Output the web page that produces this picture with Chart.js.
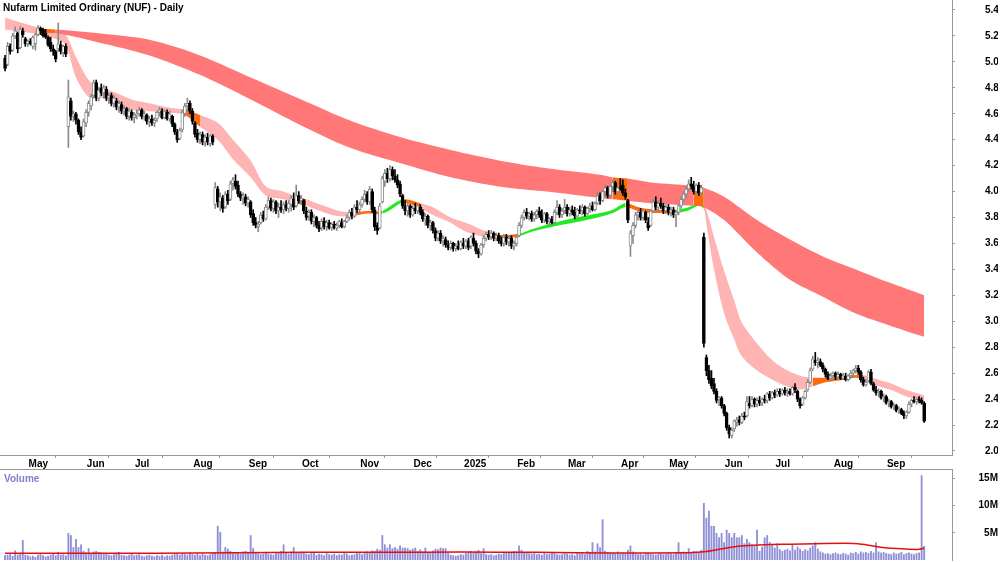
<!DOCTYPE html>
<html><head><meta charset="utf-8">
<script src="https://cdn.jsdelivr.net/npm/chart.js@4.4.1/dist/chart.umd.min.js"></script>
<style>
html,body{margin:0;padding:0;background:#fff;}
#wrap{position:relative;width:1000px;height:562px;overflow:hidden;font-family:"Liberation Sans",Arial,sans-serif;}
#pc{position:absolute;left:0;top:0;}
#vc{position:absolute;left:0;top:469px;}
#title{position:absolute;left:3px;top:1px;font-weight:bold;font-size:10px;line-height:13px;color:#000;z-index:2;white-space:nowrap;}
#vlab{position:absolute;left:4px;top:472px;color:#8080c8;font-weight:bold;font-size:10px;line-height:13px;z-index:2;}
</style></head>
<body>
<div id="wrap">
<canvas id="pc" width="1000" height="470"></canvas>
<canvas id="vc" width="1000" height="93"></canvas>
<div id="title">Nufarm Limited Ordinary (NUF) - Daily</div>
<div id="vlab">Volume</div>
</div>
<script>
// ---------- data ----------
const monthStart = [9,32,51,74,96,117,140,161,181,202,222,243,262,284,304,327,348];
const monthLabel = ['May','Jun','Jul','Aug','Sep','Oct','Nov','Dec','2025','Feb','Mar','Apr','May','Jun','Jul','Aug','Sep'];
const priceTicks = [2.0,2.2,2.4,2.6,2.8,3.0,3.2,3.4,3.6,3.8,4.0,4.2,4.4,4.6,4.8,5.0,5.2,5.4];
const volTicks = [5,10,15];

const open = [
5.03,4.98,5.12,5.09,5.20,5.22,5.11,5.24,5.18,5.14,
5.16,5.12,5.14,5.21,5.26,5.25,5.22,5.19,5.15,5.10,
5.08,5.10,5.13,5.07,5.12,4.50,4.70,4.58,4.60,4.55,
4.46,4.43,4.53,4.61,4.66,4.74,4.84,4.72,4.80,4.76,
4.79,4.72,4.74,4.68,4.70,4.65,4.67,4.62,4.64,4.58,
4.61,4.57,4.59,4.60,4.63,4.58,4.59,4.54,4.56,4.53,
4.56,4.61,4.62,4.57,4.61,4.56,4.58,4.52,4.46,4.41,
4.48,4.60,4.66,4.68,4.62,4.53,4.45,4.40,4.44,4.38,
4.42,4.37,4.43,3.90,4.02,3.92,3.95,3.88,3.98,3.94,
4.06,4.08,4.05,3.98,3.95,3.96,3.91,3.92,3.83,3.76,
3.73,3.76,3.82,3.79,3.88,3.93,3.87,3.92,3.85,3.88,
3.86,3.90,3.87,3.90,3.94,3.89,3.97,3.93,3.93,3.85,
3.81,3.84,3.77,3.80,3.74,3.72,3.77,3.73,3.76,3.72,
3.75,3.72,3.74,3.76,3.73,3.77,3.80,3.84,3.81,3.88,
3.86,3.90,3.94,3.98,3.92,4.00,3.86,3.74,3.72,3.92,
4.08,4.14,4.10,4.17,4.12,4.09,4.06,3.97,3.89,3.85,
3.89,3.82,3.87,3.85,3.88,3.84,3.79,3.81,3.74,3.76,
3.70,3.64,3.68,3.62,3.63,3.59,3.57,3.60,3.56,3.58,
3.56,3.60,3.58,3.62,3.58,3.64,3.60,3.54,3.52,3.59,
3.64,3.67,3.65,3.68,3.64,3.66,3.62,3.60,3.65,3.61,
3.64,3.58,3.60,3.66,3.74,3.80,3.84,3.81,3.83,3.79,
3.82,3.85,3.82,3.78,3.83,3.77,3.79,3.76,3.84,3.88,
3.82,3.85,3.88,3.83,3.86,3.84,3.81,3.86,3.85,3.88,
3.83,3.87,3.89,3.86,3.91,3.97,3.93,4.00,4.03,3.97,
4.04,4.07,4.00,4.03,4.05,3.99,3.93,3.58,3.66,3.74,
3.82,3.84,3.80,3.84,3.76,3.74,3.85,3.92,3.88,3.91,
3.89,3.85,3.88,3.84,3.86,3.82,3.84,3.89,3.94,3.98,
4.02,4.06,4.04,4.00,4.05,3.99,3.65,2.72,2.62,2.56,
2.52,2.46,2.40,2.41,2.35,2.29,2.18,2.12,2.17,2.22,
2.24,2.22,2.27,2.27,2.37,2.35,2.40,2.36,2.39,2.37,
2.40,2.39,2.44,2.41,2.45,2.43,2.46,2.44,2.47,2.45,
2.46,2.44,2.49,2.46,2.40,2.36,2.41,2.47,2.53,2.63,
2.70,2.68,2.69,2.66,2.63,2.59,2.56,2.58,2.60,2.57,
2.59,2.56,2.58,2.55,2.58,2.60,2.62,2.64,2.61,2.55,
2.51,2.54,2.61,2.52,2.47,2.45,2.46,2.41,2.42,2.37,
2.38,2.34,2.35,2.31,2.32,2.29,2.27,2.30,2.36,2.39,
2.38,2.40,2.39,2.37];
const high = [
5.05,5.15,5.14,5.22,5.27,5.23,5.27,5.26,5.19,5.17,
5.18,5.20,5.22,5.28,5.27,5.26,5.25,5.20,5.19,5.13,
5.09,5.30,5.16,5.13,5.14,4.86,4.72,4.62,4.61,4.56,
4.50,4.56,4.63,4.70,4.75,4.86,4.86,4.80,4.83,4.82,
4.81,4.76,4.76,4.74,4.72,4.70,4.69,4.66,4.65,4.64,
4.63,4.61,4.63,4.65,4.64,4.62,4.60,4.58,4.59,4.57,
4.62,4.65,4.64,4.63,4.63,4.62,4.59,4.53,4.48,4.49,
4.63,4.68,4.72,4.70,4.64,4.54,4.48,4.46,4.46,4.44,
4.45,4.44,4.44,4.07,4.04,3.99,3.97,4.00,4.01,4.08,
4.11,4.13,4.08,4.00,3.99,3.98,3.96,3.93,3.86,3.80,
3.77,3.84,3.85,3.90,3.96,3.95,3.94,3.93,3.91,3.93,
3.92,3.93,3.93,3.97,3.99,4.05,4.00,3.97,3.94,3.88,
3.86,3.86,3.82,3.81,3.77,3.79,3.80,3.78,3.78,3.76,
3.77,3.76,3.78,3.79,3.78,3.82,3.86,3.87,3.90,3.93,
3.92,3.96,4.01,4.00,4.04,4.02,3.88,3.76,3.91,4.12,
4.17,4.18,4.20,4.19,4.17,4.13,4.08,3.98,3.93,3.91,
3.90,3.89,3.91,3.90,3.90,3.86,3.83,3.82,3.78,3.77,
3.72,3.70,3.70,3.66,3.65,3.62,3.62,3.61,3.60,3.62,
3.62,3.64,3.63,3.64,3.66,3.68,3.62,3.56,3.60,3.66,
3.69,3.70,3.70,3.69,3.68,3.68,3.65,3.67,3.67,3.66,
3.66,3.62,3.66,3.76,3.82,3.86,3.87,3.84,3.85,3.84,
3.86,3.88,3.86,3.84,3.84,3.80,3.81,3.86,3.93,3.90,
3.87,3.94,3.90,3.88,3.89,3.88,3.87,3.89,3.90,3.89,
3.88,3.91,3.92,3.92,4.00,3.99,4.01,4.05,4.04,4.05,
4.09,4.08,4.05,4.10,4.09,4.02,3.94,3.70,3.76,3.84,
3.86,3.87,3.86,3.85,3.80,3.86,3.94,3.96,3.93,3.95,
3.91,3.90,3.90,3.88,3.88,3.85,3.90,3.96,4.00,4.04,
4.09,4.11,4.08,4.06,4.07,4.05,3.68,2.74,2.66,2.62,
2.56,2.48,2.42,2.42,2.36,2.30,2.20,2.18,2.24,2.26,
2.27,2.29,2.30,2.42,2.42,2.42,2.41,2.41,2.42,2.41,
2.43,2.45,2.46,2.46,2.47,2.48,2.48,2.48,2.49,2.48,
2.48,2.50,2.52,2.47,2.41,2.42,2.47,2.55,2.64,2.73,
2.76,2.72,2.71,2.68,2.64,2.61,2.60,2.61,2.61,2.61,
2.60,2.60,2.60,2.59,2.62,2.63,2.66,2.66,2.62,2.57,
2.55,2.62,2.63,2.53,2.50,2.48,2.47,2.44,2.43,2.40,
2.39,2.37,2.36,2.34,2.33,2.31,2.31,2.38,2.40,2.42,
2.41,2.42,2.41,2.38];
const low = [
4.93,4.97,5.06,5.08,5.18,5.07,5.10,5.19,5.12,5.12,
5.13,5.10,5.09,5.20,5.21,5.19,5.18,5.12,5.08,5.05,
5.00,5.08,5.06,5.04,5.04,4.34,4.55,4.54,4.52,4.44,
4.40,4.42,4.50,4.58,4.63,4.72,4.70,4.70,4.74,4.72,
4.70,4.68,4.66,4.65,4.63,4.61,4.60,4.59,4.56,4.55,
4.55,4.53,4.56,4.58,4.56,4.55,4.52,4.50,4.51,4.50,
4.54,4.58,4.56,4.56,4.55,4.54,4.50,4.44,4.38,4.40,
4.46,4.58,4.62,4.60,4.52,4.42,4.38,4.37,4.36,4.35,
4.36,4.35,4.36,3.87,3.88,3.85,3.84,3.87,3.90,3.93,
4.01,4.02,3.96,3.93,3.90,3.89,3.88,3.80,3.74,3.72,
3.69,3.75,3.77,3.78,3.86,3.85,3.84,3.83,3.80,3.84,
3.83,3.85,3.84,3.85,3.86,3.88,3.91,3.90,3.83,3.78,
3.78,3.75,3.73,3.72,3.69,3.70,3.71,3.70,3.71,3.70,
3.71,3.70,3.72,3.72,3.72,3.76,3.78,3.79,3.80,3.84,
3.83,3.88,3.92,3.90,3.90,3.84,3.70,3.67,3.71,3.91,
4.04,4.07,4.08,4.09,4.07,4.03,3.96,3.87,3.82,3.81,
3.80,3.81,3.83,3.83,3.82,3.77,3.74,3.72,3.70,3.68,
3.62,3.62,3.60,3.58,3.57,3.55,3.55,3.54,3.54,3.55,
3.55,3.56,3.56,3.55,3.56,3.58,3.52,3.49,3.51,3.57,
3.62,3.63,3.63,3.62,3.62,3.60,3.58,3.58,3.59,3.58,
3.56,3.55,3.58,3.65,3.72,3.78,3.79,3.78,3.77,3.77,
3.79,3.80,3.76,3.76,3.75,3.74,3.75,3.75,3.82,3.80,
3.80,3.83,3.81,3.81,3.82,3.79,3.80,3.83,3.82,3.81,
3.82,3.84,3.85,3.85,3.90,3.90,3.92,3.96,3.95,3.95,
4.00,3.98,3.97,4.01,3.97,3.94,3.76,3.50,3.60,3.72,
3.78,3.78,3.78,3.76,3.70,3.73,3.84,3.86,3.85,3.87,
3.83,3.83,3.82,3.81,3.80,3.73,3.82,3.87,3.92,3.95,
4.00,4.02,3.98,3.98,3.97,3.97,2.80,2.58,2.52,2.48,
2.44,2.37,2.35,2.33,2.27,2.16,2.10,2.10,2.15,2.19,
2.20,2.21,2.24,2.26,2.33,2.34,2.34,2.34,2.35,2.35,
2.37,2.37,2.39,2.40,2.41,2.42,2.42,2.43,2.43,2.42,
2.43,2.43,2.45,2.38,2.33,2.35,2.40,2.46,2.52,2.62,
2.66,2.64,2.65,2.61,2.57,2.55,2.54,2.55,2.55,2.56,
2.55,2.55,2.54,2.54,2.56,2.57,2.60,2.59,2.53,2.50,
2.50,2.53,2.51,2.46,2.43,2.42,2.40,2.38,2.36,2.34,
2.33,2.32,2.30,2.29,2.28,2.25,2.25,2.29,2.34,2.37,
2.36,2.37,2.36,2.22];
const close = [
4.95,5.12,5.08,5.20,5.24,5.10,5.25,5.21,5.14,5.16,
5.14,5.19,5.21,5.26,5.24,5.20,5.19,5.13,5.10,5.08,
5.02,5.14,5.08,5.12,5.06,4.73,4.58,4.60,4.55,4.46,
4.42,4.54,4.61,4.68,4.73,4.84,4.72,4.78,4.76,4.80,
4.72,4.74,4.68,4.72,4.65,4.68,4.62,4.64,4.58,4.62,
4.57,4.59,4.60,4.63,4.58,4.60,4.54,4.56,4.53,4.55,
4.61,4.63,4.57,4.62,4.56,4.60,4.52,4.46,4.40,4.47,
4.61,4.66,4.68,4.62,4.54,4.44,4.40,4.44,4.38,4.42,
4.38,4.43,4.38,4.03,3.92,3.96,3.87,3.98,3.93,4.06,
4.09,4.04,3.98,3.95,3.97,3.91,3.94,3.82,3.76,3.74,
3.75,3.82,3.79,3.88,3.93,3.87,3.92,3.85,3.88,3.86,
3.90,3.87,3.91,3.95,3.88,3.97,3.93,3.95,3.85,3.80,
3.84,3.77,3.80,3.74,3.71,3.77,3.73,3.76,3.72,3.75,
3.72,3.74,3.77,3.73,3.77,3.80,3.84,3.81,3.88,3.86,
3.90,3.94,3.98,3.92,4.02,3.86,3.73,3.70,3.89,4.10,
4.14,4.10,4.17,4.12,4.09,4.05,3.98,3.89,3.85,3.89,
3.82,3.87,3.85,3.89,3.84,3.79,3.81,3.74,3.76,3.70,
3.64,3.68,3.62,3.64,3.59,3.57,3.60,3.56,3.58,3.56,
3.61,3.58,3.62,3.57,3.65,3.60,3.54,3.52,3.59,3.64,
3.67,3.65,3.68,3.64,3.66,3.62,3.60,3.65,3.61,3.64,
3.58,3.60,3.65,3.74,3.80,3.84,3.81,3.83,3.79,3.82,
3.85,3.82,3.78,3.83,3.77,3.79,3.76,3.84,3.88,3.82,
3.85,3.88,3.83,3.86,3.84,3.81,3.86,3.85,3.88,3.83,
3.87,3.89,3.86,3.91,3.97,3.93,4.00,4.03,3.97,4.04,
4.07,4.00,4.03,4.02,3.99,3.96,3.78,3.68,3.74,3.82,
3.84,3.80,3.85,3.78,3.72,3.85,3.92,3.88,3.91,3.89,
3.85,3.88,3.84,3.86,3.82,3.84,3.89,3.94,3.98,4.02,
4.06,4.04,4.00,4.05,3.99,4.03,2.83,2.62,2.55,2.50,
2.46,2.39,2.41,2.35,2.29,2.18,2.13,2.16,2.23,2.24,
2.22,2.27,2.26,2.38,2.35,2.40,2.36,2.39,2.37,2.40,
2.39,2.44,2.41,2.45,2.43,2.46,2.44,2.47,2.45,2.46,
2.44,2.49,2.47,2.40,2.35,2.41,2.46,2.53,2.62,2.71,
2.68,2.70,2.66,2.63,2.59,2.56,2.58,2.60,2.57,2.59,
2.56,2.58,2.55,2.58,2.60,2.62,2.64,2.61,2.55,2.51,
2.53,2.61,2.52,2.47,2.45,2.46,2.41,2.42,2.37,2.38,
2.34,2.35,2.31,2.32,2.29,2.27,2.30,2.36,2.39,2.38,
2.40,2.39,2.37,2.23];
// volume in millions
const volume = [
0.8,0.9,1.0,0.7,1.7,0.9,1.1,3.6,0.9,0.8,
0.6,0.7,0.5,0.9,1.0,0.8,0.6,0.7,0.9,1.2,
0.8,1.4,0.9,1.0,0.8,4.9,4.5,2.3,3.8,2.3,
2.8,1.6,1.3,2.1,1.2,1.5,1.6,1.4,1.3,1.0,
1.1,0.9,0.8,1.0,1.3,1.4,0.9,0.8,0.7,0.9,
1.2,0.8,0.9,1.0,0.7,0.6,0.8,0.9,0.7,0.6,
0.8,0.7,0.9,0.6,0.8,0.7,0.9,1.0,1.2,0.9,
1.1,1.0,0.9,1.3,1.0,0.9,1.2,0.8,1.1,0.9,
0.8,1.0,1.3,1.4,6.2,5.1,1.5,2.3,2.0,1.6,
1.2,1.4,1.3,1.1,1.5,1.6,1.3,4.5,2.1,1.4,
1.2,1.0,1.1,1.3,1.1,1.0,0.9,1.2,1.4,1.6,
2.8,1.3,1.1,1.5,2.3,1.4,1.2,1.5,1.3,1.1,
1.0,1.2,1.3,0.9,1.1,1.0,0.8,1.2,1.0,0.9,
1.1,0.8,1.0,0.9,1.2,1.1,0.8,0.9,1.0,1.3,
1.2,1.0,1.4,1.5,1.3,1.7,1.6,2.0,1.8,4.5,
2.8,2.2,2.8,2.1,2.3,2.0,2.6,2.2,2.2,2.1,
1.8,2.0,2.2,1.6,1.9,1.5,2.2,1.4,1.3,1.7,
2.0,1.9,2.2,2.1,2.1,1.2,0.9,0.8,0.7,0.8,
1.0,0.9,1.2,1.4,1.6,1.3,1.5,1.8,1.2,2.1,
1.0,0.9,1.0,0.8,0.9,1.1,1.0,1.2,1.3,1.4,
1.3,1.6,1.5,2.6,1.8,1.3,1.4,1.2,1.1,1.2,
1.0,1.1,0.9,1.2,1.0,1.1,1.3,1.2,1.0,0.9,
1.0,1.2,1.1,0.9,1.0,0.8,1.2,1.1,1.3,1.0,
1.6,1.4,3.2,1.5,3.0,2.3,7.4,1.6,1.4,1.2,
1.3,1.2,1.5,1.1,1.3,1.2,1.8,2.6,1.5,1.2,
1.0,1.1,0.9,1.2,1.3,1.1,1.0,0.9,1.1,1.2,
1.0,1.1,1.3,1.2,1.0,1.4,3.2,1.3,1.5,1.2,
2.1,1.4,1.6,1.5,1.3,1.8,10.4,7.7,9.0,6.2,
6.2,4.9,4.1,4.9,3.2,5.5,4.9,4.1,4.9,4.1,
4.1,4.5,3.0,3.8,3.2,2.8,2.5,5.5,1.6,2.4,
4.1,4.5,3.2,2.9,2.2,3.0,1.9,1.6,1.8,2.0,
1.7,2.8,1.8,2.4,2.0,1.6,1.9,1.7,2.2,2.6,
3.2,2.0,1.5,1.3,1.1,1.2,1.0,1.2,1.3,1.1,
1.0,1.2,1.1,0.9,1.3,1.2,1.4,1.1,1.5,1.3,
1.4,1.2,1.6,1.3,3.2,1.5,1.3,1.4,1.2,1.1,
1.0,1.3,1.1,1.2,1.4,1.0,1.2,1.3,1.1,1.0,
1.2,1.3,15.5,2.5];

// short-term band
const shortIdx = [0,14,21,24,28,33,37,44,50,57,64,71,77,84,90,97,103,110,115,119,123,129,132,137,143,149,153,157,160,164,169,176,182,189,192,196,203,208,214,220,227,234,240,245,251,258,265,270,274,276,277,280,284,288,291,297,303,310,315,319,323,330,336,339,345,350,356,363];
const shortTop = [5.34,5.26,5.24,5.21,5.04,4.86,4.81,4.76,4.71,4.68,4.65,4.63,4.59,4.53,4.40,4.24,4.04,4.00,3.96,3.94,3.91,3.87,3.85,3.84,3.85,3.85,3.90,3.94,3.935,3.91,3.88,3.80,3.76,3.70,3.68,3.665,3.675,3.71,3.745,3.775,3.805,3.83,3.86,3.91,3.875,3.86,3.86,3.88,3.91,3.885,3.86,3.65,3.39,3.16,2.99,2.83,2.70,2.61,2.575,2.565,2.565,2.57,2.585,2.585,2.55,2.52,2.47,2.43];
const shortBot = [5.25,5.21,5.17,5.13,4.88,4.73,4.73,4.68,4.63,4.62,4.61,4.59,4.50,4.40,4.25,4.11,3.97,3.94,3.91,3.89,3.86,3.82,3.81,3.81,3.83,3.83,3.87,3.915,3.905,3.87,3.82,3.76,3.69,3.65,3.64,3.63,3.655,3.69,3.72,3.745,3.77,3.80,3.835,3.88,3.845,3.835,3.835,3.855,3.89,3.865,3.75,3.40,3.06,2.86,2.73,2.62,2.55,2.49,2.475,2.50,2.525,2.545,2.565,2.55,2.50,2.47,2.42,2.39];
const shortOrange = [[71,77],[115,119],[137,149],[157,164],[192,203],[245,265],[319,339]];
const shortGreen = [[149,157],[203,245],[265,276]];

// long-term band
const longIdx = [12,20,37,57,77,97,117,136,156,176,195,214,235,240,246,255,272,276,284,297,310,323,336,349,363];
const longTop = [5.255,5.25,5.22,5.17,5.05,4.88,4.71,4.55,4.42,4.32,4.24,4.18,4.13,4.11,4.10,4.07,4.045,4.03,3.96,3.78,3.63,3.50,3.40,3.30,3.20];
const longBot = [5.215,5.22,5.15,5.05,4.90,4.71,4.51,4.34,4.22,4.11,4.04,4.00,3.95,3.94,3.93,3.91,3.89,3.88,3.78,3.53,3.32,3.19,3.06,2.97,2.88];
const longOrange = [[12,20],[240,246],[272,276]];

// volume moving average
const vmaIdx = [0,30,60,90,120,150,180,210,240,270,276,285,292,300,310,320,335,340,345,352,361,363];
const vmaVal = [1.25,1.25,1.25,1.35,1.4,1.4,1.45,1.4,1.3,1.35,1.5,2.2,2.6,2.8,2.9,3.0,3.05,2.8,2.4,2.1,1.95,2.2];

// ---------- styling ----------
const PINK = '#ffb4b4', RED = '#ff7777', ORANGE = '#ff6a0c', GREEN = '#22ea22';
const UPC = '#8a8a8a', DNC = '#000000';
Chart.defaults.font.family = '"Liberation Sans", Arial, sans-serif';
Chart.defaults.color = '#000';

function inR(m, rs){ return rs.some(r => m >= r[0] && m <= r[1]); }
function shortColor(c){
  const m = (shortIdx[c.p0DataIndex] + shortIdx[c.p1DataIndex]) / 2;
  if (inR(m, shortGreen)) return GREEN;
  if (inR(m, shortOrange)) return ORANGE;
  return PINK;
}
function longColor(c){
  const m = (longIdx[c.p0DataIndex] + longIdx[c.p1DataIndex]) / 2;
  return inR(m, longOrange) ? ORANGE : RED;
}

const idx = close.map((_, i) => i);
const isUp = idx.map(i => close[i] >= open[i]);
const XMIN = -2, XMAX = 374;

const bandLine = (xs, ys, extra) => Object.assign({
  type: 'line',
  data: xs.map((x, k) => ({x: x, y: ys[k]})),
  borderColor: 'rgba(0,0,0,0)', borderWidth: 0, pointRadius: 0, tension: 0.3
}, extra);

new Chart(document.getElementById('pc'), {
  type: 'bar',
  data: {
    datasets: [
      bandLine(shortIdx, shortBot, {fill: false, order: 6}),
      bandLine(shortIdx, shortTop, {fill: '-1', backgroundColor: PINK, segment: {backgroundColor: shortColor}, order: 6}),
      bandLine(longIdx, longBot, {fill: false, order: 5}),
      bandLine(longIdx, longTop, {fill: '-1', backgroundColor: RED, segment: {backgroundColor: longColor}, order: 5}),
      {
        type: 'bar', order: 2, grouped: false, barThickness: 1,
        data: idx.map(i => ({x: i, y: [low[i], high[i]]})),
        backgroundColor: idx.map(i => isUp[i] ? UPC : DNC)
      },
      {
        type: 'bar', order: 1, grouped: false, barThickness: 3, minBarLength: 1,
        data: idx.map(i => ({x: i, y: [Math.min(open[i], close[i]), Math.max(open[i], close[i])]})),
        backgroundColor: idx.map(i => isUp[i] ? '#ffffff' : DNC),
        borderColor: idx.map(i => isUp[i] ? UPC : DNC),
        borderWidth: 1, borderSkipped: false
      }
    ]
  },
  options: {
    responsive: false, animation: false, devicePixelRatio: 1, events: [],
    layout: {padding: {left: 0, right: 2, top: 0, bottom: 0}},
    plugins: {legend: {display: false}, tooltip: {enabled: false}},
    scales: {
      x: {
        type: 'linear', min: XMIN, max: XMAX, offset: false,
        grid: {drawOnChartArea: false, drawTicks: true, tickLength: 3, color: '#999'},
        border: {color: '#999'},
        afterBuildTicks: s => { s.ticks = monthStart.map(v => ({value: v - 0.5})); },
        ticks: {autoSkip: false, maxRotation: 0, minRotation: 0, align: 'start', labelOffset: 2, padding: 0,
          font: {size: 10, weight: 'bold'}, color: '#000',
          callback: (v, k) => monthLabel[k]},
        afterFit: s => { s.height = 15; s.paddingLeft = 0; s.paddingRight = 0; }
      },
      y: {
        position: 'right', min: 1.969, max: 5.477,
        grid: {drawOnChartArea: false, tickLength: 3, color: '#999'},
        border: {color: '#999'},
        afterBuildTicks: s => { s.ticks = priceTicks.map(v => ({value: v})); },
        ticks: {font: {size: 10, weight: 'bold'}, color: '#000', padding: 30, crossAlign: 'near',
          callback: v => Number(v).toFixed(1)},
        afterFit: s => { s.width = 46; s.paddingTop = 0; s.paddingBottom = 0; }
      }
    }
  }
});

const topLine = {
  id: 'topLine',
  afterDraw(chart) {
    const c = chart.ctx, a = chart.chartArea;
    c.save(); c.strokeStyle = '#999'; c.lineWidth = 1;
    c.beginPath(); c.moveTo(0, a.top + 0.5); c.lineTo(a.right, a.top + 0.5); c.stroke();
    c.restore();
  }
};

new Chart(document.getElementById('vc'), {
  type: 'bar',
  data: {
    datasets: [
      {
        type: 'line', order: 1,
        data: vmaIdx.map((x, k) => ({x: x, y: vmaVal[k]})),
        borderColor: '#e41010', borderWidth: 1.5, pointRadius: 0, tension: 0.3, fill: false
      },
      {
        type: 'bar', order: 2, grouped: false, barThickness: 1.2,
        data: idx.map(i => ({x: i, y: volume[i]})),
        backgroundColor: '#9090d8'
      }
    ]
  },
  options: {
    responsive: false, animation: false, devicePixelRatio: 1, events: [],
    layout: {padding: {left: 0, right: 2, top: 0, bottom: 2}},
    plugins: {legend: {display: false}, tooltip: {enabled: false}},
    scales: {
      x: {type: 'linear', min: XMIN, max: XMAX, offset: false, display: false},
      y: {
        position: 'right', min: 0, max: 16.7,
        grid: {drawOnChartArea: false, tickLength: 3, color: '#999'},
        border: {color: '#999'},
        afterBuildTicks: s => { s.ticks = volTicks.map(v => ({value: v})); },
        ticks: {font: {size: 10, weight: 'bold'}, color: '#000', padding: 24, crossAlign: 'far',
          callback: v => v + 'M'},
        afterFit: s => { s.width = 46; s.paddingTop = 0; s.paddingBottom = 0; }
      }
    }
  },
  plugins: [topLine]
});
</script>
</body></html>
